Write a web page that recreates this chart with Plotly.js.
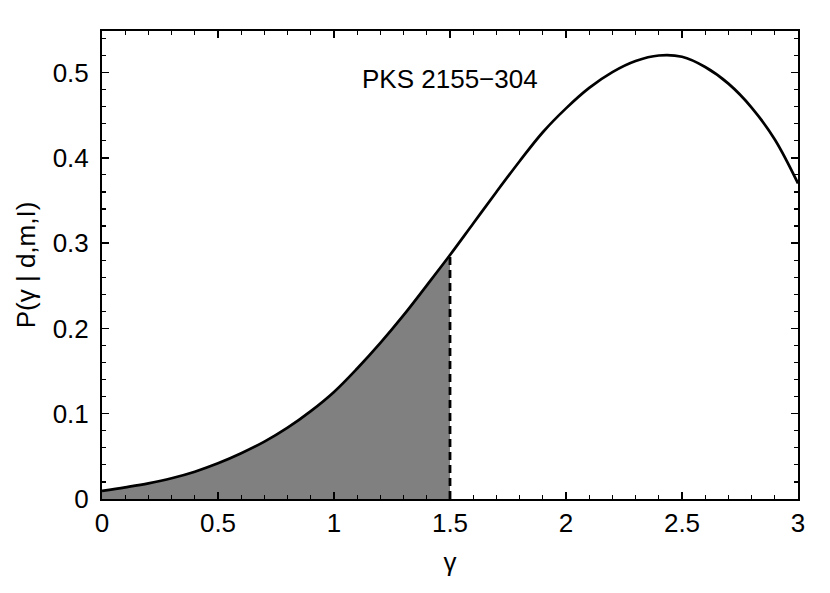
<!DOCTYPE html>
<html>
<head>
<meta charset="utf-8">
<script src="https://cdn.plot.ly/plotly-3.0.1.min.js"></script>
<style>html,body{margin:0;padding:0;background:#fff;}#chart{width:830px;height:593px;}</style>
</head>
<body>
<div id="chart"></div>
<script>
// gamma values and posterior probability
const gamma = [0, 0.1, 0.2, 0.3, 0.4, 0.5, 0.6, 0.7, 0.8, 0.9, 1.0, 1.1, 1.2, 1.3, 1.4, 1.5,
               1.6, 1.7, 1.8, 1.9, 2.0, 2.1, 2.2, 2.3, 2.4, 2.5, 2.6, 2.7, 2.8, 2.9, 3.0];
const prob  = [0.0094, 0.0137, 0.0184, 0.0243, 0.032, 0.0418, 0.0536, 0.0672, 0.0836, 0.103, 0.1255, 0.153, 0.183, 0.2155, 0.2505, 0.286,
               0.323, 0.360, 0.396, 0.430, 0.458, 0.482, 0.5005, 0.5135, 0.520, 0.5185, 0.5065, 0.487, 0.459, 0.4215, 0.370];
const cutoff = 1.5;
const label = "PKS 2155\u2212304";
const xTickVals = [0, 0.5, 1, 1.5, 2, 2.5, 3];
const xTickText = ["0", "0.5", "1", "1.5", "2", "2.5", "3"];
const yTickVals = [0, 0.1, 0.2, 0.3, 0.4, 0.5];
const yTickText = ["0", "0.1", "0.2", "0.3", "0.4", "0.5"];

const idx = gamma.indexOf(cutoff);
const gShade = gamma.slice(0, idx + 1);
const pShade = prob.slice(0, idx + 1);
const pCut = prob[idx];

const font = {family: "Liberation Sans, Arial, sans-serif", size: 26, color: "#000"};

const traces = [
  {x: gShade, y: pShade, type: "scatter", mode: "lines", fill: "tozeroy",
   fillcolor: "#808080", line: {width: 0, shape: "spline", smoothing: 1, color: "#808080"}, hoverinfo: "skip"},
  {x: [cutoff, cutoff], y: [0, pCut], type: "scatter", mode: "lines",
   line: {color: "#000", width: 2.8, dash: "8px,5px"}},
  {x: gamma, y: prob, type: "scatter", mode: "lines",
   line: {color: "#000", width: 2.7, shape: "spline", smoothing: 1}}
];

const axisCommon = {
  showgrid: false, zeroline: false, showline: true, linecolor: "#000", linewidth: 2,
  mirror: "allticks", ticks: "inside", ticklen: 7, tickwidth: 1.5, tickcolor: "#000",
  tickfont: font
};

const layout = {
  width: 830, height: 593,
  margin: {l: 102, r: 32, t: 31, b: 94},
  paper_bgcolor: "#fff", plot_bgcolor: "#fff",
  showlegend: false,
  font: font,
  xaxis: Object.assign({}, axisCommon, {
    range: [0, 3], tickmode: "array", tickvals: xTickVals, ticktext: xTickText,
    minor: {dtick: 0.1, ticks: "inside", ticklen: 4, tickwidth: 1.2, tickcolor: "#000", showgrid: false},
    title: {text: "\u03b3", font: font, standoff: 16}
  }),
  yaxis: Object.assign({}, axisCommon, {
    range: [0, 0.5487], tickmode: "array", tickvals: yTickVals, ticktext: yTickText,
    ticklabelstandoff: 6,
    minor: {dtick: 0.02, ticks: "inside", ticklen: 4, tickwidth: 1.2, tickcolor: "#000", showgrid: false},
    title: {text: "P(\u03b3 | d,m,I)", font: font, standoff: 10}
  }),
  annotations: [{x: 1.5, y: 0.493, xref: "x", yref: "y", text: label, showarrow: false,
                 font: font, xanchor: "center", yanchor: "middle"}]
};

Plotly.newPlot("chart", traces, layout, {displayModeBar: false, staticPlot: true});
</script>
</body>
</html>
